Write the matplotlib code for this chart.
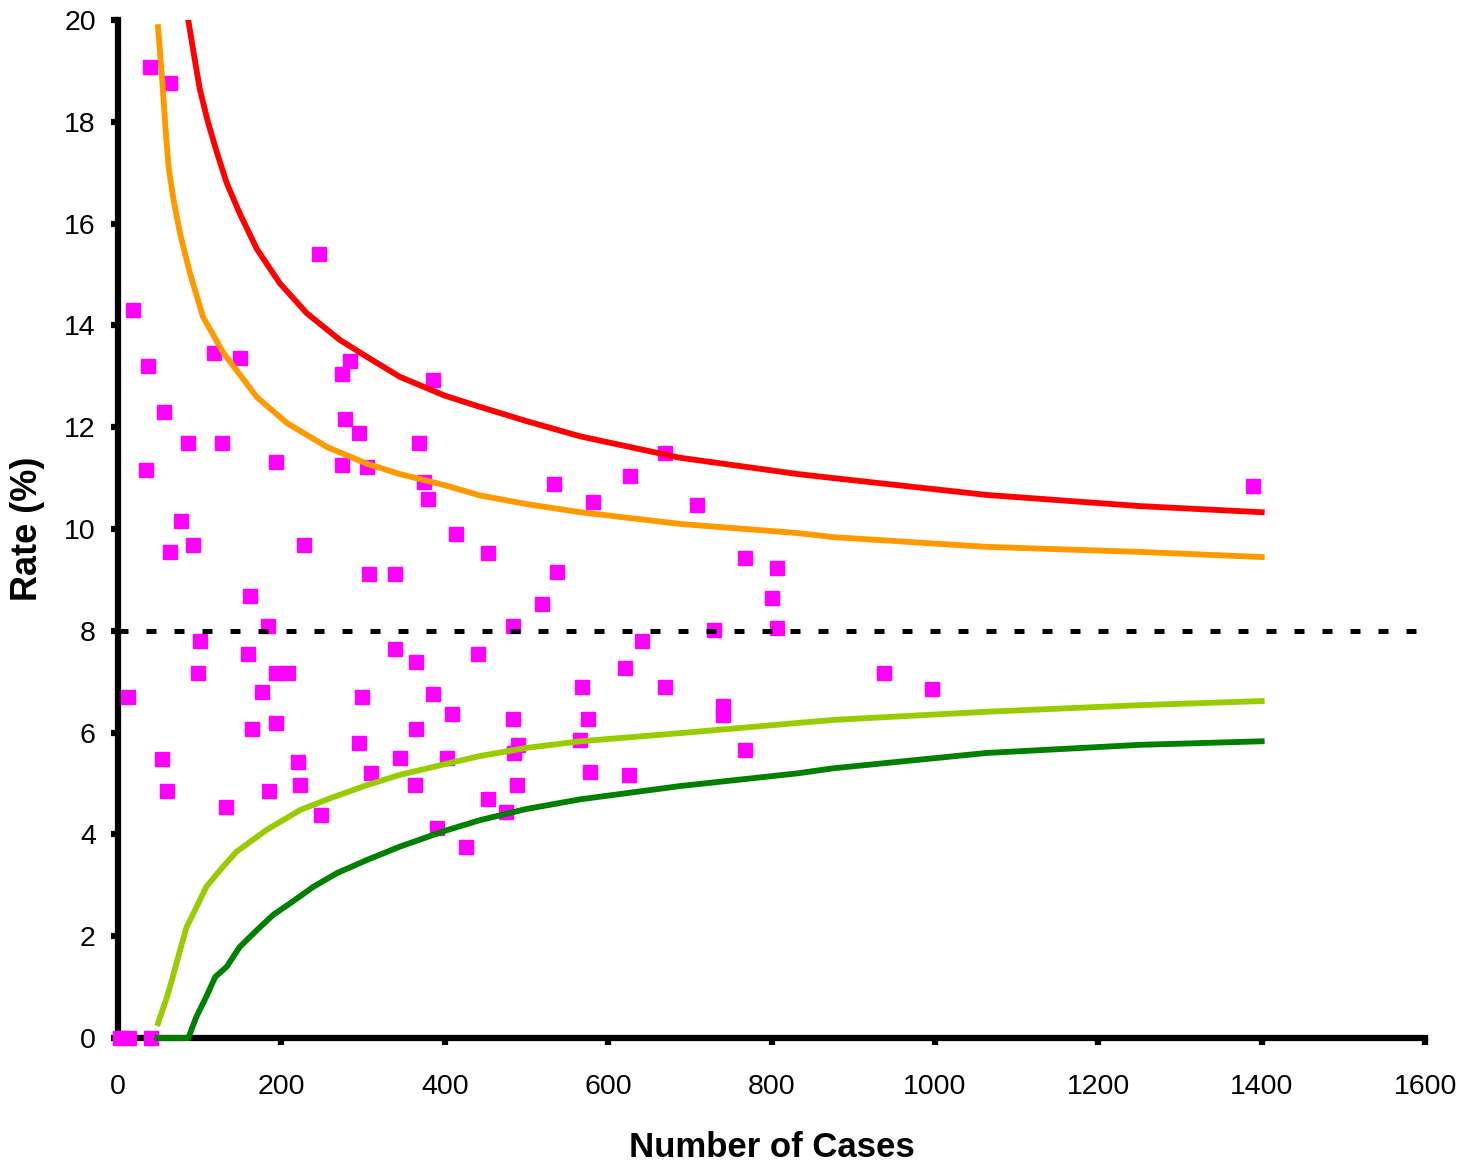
import matplotlib
matplotlib.use("Agg")
import matplotlib.pyplot as plt

plt.rcParams['font.family'] = ['Liberation Sans', 'DejaVu Sans']

# units observed (number of cases) and their rate (%)
cases = [3, 14, 40, 12, 18, 39, 64, 37, 34, 56, 77, 86, 64, 92, 54, 60, 100, 98,
         118, 127, 149, 132, 162, 159, 164, 176, 184, 194, 194, 208, 194, 185,
         220, 223, 228, 246, 249, 274, 284, 278, 274, 295, 305, 307, 299, 295,
         310, 339, 339, 345, 365, 363, 365, 368, 385, 375, 380, 385, 390, 409,
         414, 403, 426, 441, 453, 453, 475, 483, 483, 485, 490, 488, 519, 534,
         537, 566, 568, 575, 578, 581, 621, 627, 625, 642, 670, 670, 709, 729,
         740, 740, 767, 767, 801, 807, 807, 938, 997, 1389]
rates = [0, 0, 0, 6.7, 14.3, 19.08, 18.76, 13.2, 11.16, 12.3, 10.16, 11.69, 9.55,
         9.69, 5.48, 4.85, 7.8, 7.17, 13.46, 11.69, 13.36, 4.54, 8.68, 7.54, 6.07,
         6.8, 8.09, 11.32, 7.17, 7.17, 6.19, 4.85, 5.42, 4.97, 9.69, 15.4, 4.38,
         13.05, 13.3, 12.16, 11.26, 11.89, 11.22, 9.12, 6.7, 5.8, 5.2, 9.12, 7.64,
         5.5, 7.39, 4.97, 6.07, 11.69, 12.93, 10.92, 10.59, 6.76, 4.13, 6.37, 9.9,
         5.5, 3.75, 7.54, 9.53, 4.7, 4.44, 8.09, 6.27, 5.6, 5.76, 4.97, 8.53,
         10.88, 9.16, 5.85, 6.9, 6.27, 5.23, 10.53, 7.27, 11.04, 5.17, 7.8, 11.49,
         6.9, 10.47, 8.02, 6.52, 6.35, 9.43, 5.66, 8.64, 9.23, 8.05, 7.17, 6.86,
         10.84]

target_rate = 8

# control limits
upper_998_n = [86, 92, 100, 110, 121, 133, 149, 170, 198, 231, 272, 305, 345,
               400, 443, 500, 566, 688, 832, 876, 1063, 1251, 1400]
upper_998 = [20.0, 19.41, 18.65, 18.0, 17.4, 16.8, 16.2, 15.5, 14.83, 14.24,
             13.71, 13.38, 12.99, 12.62, 12.40, 12.12, 11.82, 11.4, 11.08, 11.0,
             10.67, 10.45, 10.33]

upper_95_n = [49, 54, 58, 62, 68, 76, 88, 104, 129, 170, 207, 256, 305, 345, 400,
              443, 500, 566, 688, 832, 876, 1063, 1251, 1400]
upper_95 = [19.86, 18.85, 17.9, 17.1, 16.46, 15.8, 15.03, 14.17, 13.46, 12.59,
            12.08, 11.61, 11.28, 11.08, 10.86, 10.66, 10.49, 10.33, 10.1, 9.92,
            9.84, 9.65, 9.55, 9.45]

lower_95_n = [49, 60, 67, 76, 84, 96, 108, 125, 145, 182, 223, 263, 305, 345, 400,
              443, 500, 566, 688, 832, 876, 1063, 1251, 1400]
lower_95 = [0.29, 0.81, 1.2, 1.73, 2.18, 2.57, 2.97, 3.3, 3.66, 4.09, 4.48, 4.73,
            4.97, 5.17, 5.38, 5.54, 5.70, 5.83, 5.99, 6.19, 6.25, 6.41, 6.54, 6.62]

lower_998_n = [48, 86, 96, 108, 119, 133, 149, 170, 190, 211, 239, 268, 305, 345,
               400, 443, 500, 566, 688, 832, 876, 1063, 1251, 1400]
lower_998 = [0, 0, 0.42, 0.81, 1.2, 1.4, 1.79, 2.12, 2.42, 2.65, 2.97, 3.24, 3.5,
             3.76, 4.07, 4.28, 4.50, 4.69, 4.95, 5.2, 5.3, 5.6, 5.76, 5.83]

fig = plt.figure(figsize=(14.66, 11.70), dpi=100)
ax = fig.add_axes([0.0805, 0.1128, 0.8916, 0.8701])

ax.plot(cases, rates, linestyle='none', marker='s', markersize=10,
        color='#FF00FF', zorder=3, clip_on=False)

lw = 4.2
ax.plot(upper_998_n, upper_998, color='#FF0000', lw=lw, zorder=4)
ax.plot(upper_95_n, upper_95, color='#FF9900', lw=lw, zorder=4)
ax.plot(lower_95_n, lower_95, color='#99CC00', lw=lw, zorder=4)
ax.plot(lower_998_n, lower_998, color='#008000', lw=lw, zorder=4, clip_on=False)

ax.plot([0, 1600], [target_rate, target_rate], color='black', lw=3.6,
        dashes=(2, 3.6), zorder=4, clip_on=False)

ax.set_xlim(0, 1600)
ax.set_ylim(0, 20)
ax.set_xticks(range(0, 1601, 200))
ax.set_yticks(range(0, 21, 2))

for side in ['top', 'right']:
    ax.spines[side].set_visible(False)
for side in ['left', 'bottom']:
    ax.spines[side].set_linewidth(4.5)

ax.tick_params(axis='both', direction='out', length=5, width=4.5, labelsize=20.5)
ax.tick_params(axis='x', pad=21)
ax.tick_params(axis='y', pad=11)

ax.set_xlabel('Number of Cases', fontsize=25, fontweight='bold', labelpad=22)
ax.set_ylabel('Rate (%)', fontsize=26, fontweight='bold', labelpad=14)

fig.savefig('out.png', dpi=100)
